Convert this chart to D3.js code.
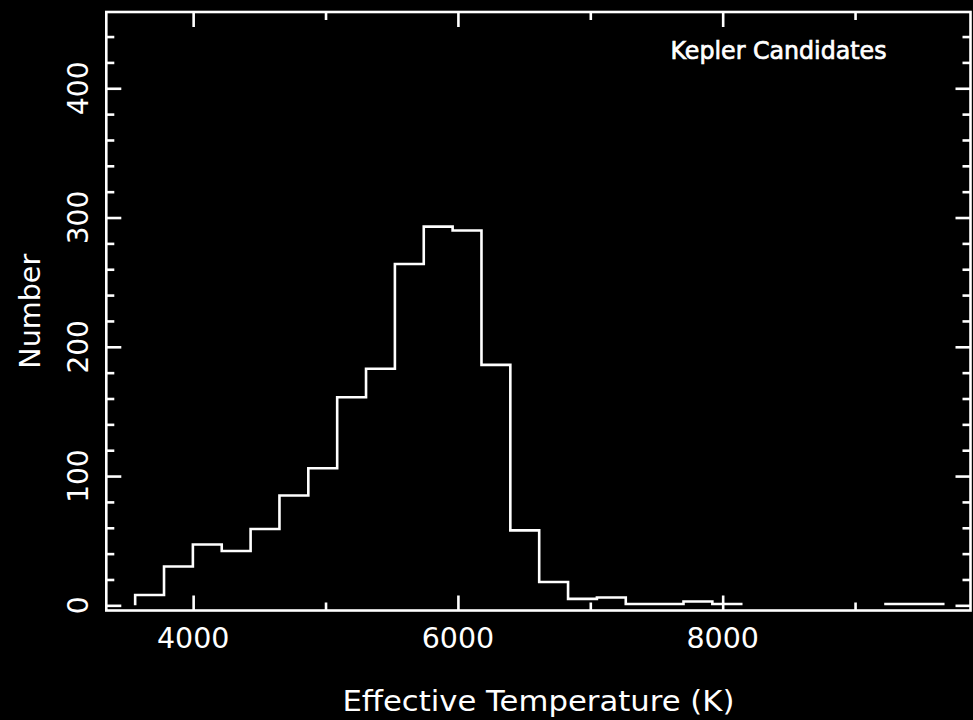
<!DOCTYPE html>
<html>
<head>
<meta charset="utf-8">
<script src="https://cdn.jsdelivr.net/npm/d3@7"></script>
<style>
  html, body { margin: 0; padding: 0; background: #000; }
  svg { display: block; }
  text { font-family: "DejaVu Sans", sans-serif; fill: #fff; }
</style>
</head>
<body>
<svg id="chart" width="973" height="720"></svg>
<script>
// ---- data ----
const binEdges = [3562, 3780, 3998, 4216, 4434, 4652, 4870, 5088, 5306, 5524,
                  5742, 5960, 6178, 6396, 6614, 6832, 7050, 7268, 7486, 7704,
                  7922, 8140, 8358, 8576, 8794, 9012, 9230, 9448, 9666];
const counts = [8, 30, 47, 42, 59, 85, 106, 161, 183, 264,
                293, 290, 186, 58, 18, 5, 6, 1, 1, 3,
                1, 0, 0, 0, 0, 0, 1, 1];
const xMajorTicks = [4000, 6000, 8000];
const xMinorTicks = [5000, 7000, 9000];
const yMajorTicks = [0, 100, 200, 300, 400];
const yMinorTicks = [20, 40, 60, 80, 120, 140, 160, 180, 220, 240, 260, 280, 320, 340, 360, 380, 420, 440];
const xLabel = "Effective Temperature (K)";
const yLabel = "Number";
const annotation = "Kepler Candidates";

// ---- layout ----
const L = 106.3, R = 970.5, T = 12, B = 610.5;
const x = d3.scaleLinear().domain([3344, 9872]).range([L, R]);
const y = d3.scaleLinear().domain([-4, 459]).range([B, T]);

const svg = d3.select("#chart");
svg.append("rect").attr("width", 973).attr("height", 720).attr("fill", "#000");

const lw = 2.6;

function styleAxis(g) {
  g.select(".domain").remove();
  g.selectAll(".tick line").attr("stroke", "#fff").attr("stroke-width", lw);
  g.selectAll(".tick text").remove();
}

// bottom / top x ticks
svg.append("g").attr("transform", `translate(0,${B})`)
  .call(d3.axisBottom(x).tickValues(xMajorTicks).tickSize(-15)).call(styleAxis);
svg.append("g").attr("transform", `translate(0,${B})`)
  .call(d3.axisBottom(x).tickValues(xMinorTicks).tickSize(-8)).call(styleAxis);
svg.append("g").attr("transform", `translate(0,${T})`)
  .call(d3.axisTop(x).tickValues(xMajorTicks).tickSize(-15)).call(styleAxis);
svg.append("g").attr("transform", `translate(0,${T})`)
  .call(d3.axisTop(x).tickValues(xMinorTicks).tickSize(-8)).call(styleAxis);

// left / right y ticks
svg.append("g").attr("transform", `translate(${L},0)`)
  .call(d3.axisLeft(y).tickValues(yMajorTicks).tickSize(-15)).call(styleAxis);
svg.append("g").attr("transform", `translate(${L},0)`)
  .call(d3.axisLeft(y).tickValues(yMinorTicks).tickSize(-8)).call(styleAxis);
svg.append("g").attr("transform", `translate(${R},0)`)
  .call(d3.axisRight(y).tickValues(yMajorTicks).tickSize(-15)).call(styleAxis);
svg.append("g").attr("transform", `translate(${R},0)`)
  .call(d3.axisRight(y).tickValues(yMinorTicks).tickSize(-8)).call(styleAxis);

// frame
svg.append("rect")
  .attr("x", L).attr("y", T).attr("width", R - L).attr("height", B - T)
  .attr("fill", "none").attr("stroke", "#fff").attr("stroke-width", lw);

// x tick labels
svg.append("g").selectAll("text").data(xMajorTicks).join("text")
  .attr("x", d => x(d)).attr("y", 648)
  .attr("text-anchor", "middle").attr("font-size", 28.5)
  .text(d => d);

// y tick labels (rotated)
svg.append("g").selectAll("text").data(yMajorTicks).join("text")
  .attr("transform", d => `translate(87.5,${y(d)}) rotate(-90)`)
  .attr("text-anchor", "middle").attr("font-size", 28)
  .text(d => d);

// axis titles
svg.append("text")
  .attr("x", (L + R) / 2).attr("y", 711)
  .attr("text-anchor", "middle").attr("font-size", 29)
  .attr("textLength", 392).attr("lengthAdjust", "spacingAndGlyphs")
  .text(xLabel);
svg.append("text")
  .attr("transform", `translate(40,${(T + B) / 2}) rotate(-90)`)
  .attr("text-anchor", "middle").attr("font-size", 28)
  .attr("textLength", 115).attr("lengthAdjust", "spacingAndGlyphs")
  .text(yLabel);

// annotation
svg.append("text")
  .attr("x", 670.5).attr("y", 58.5)
  .attr("font-size", 24)
  .attr("stroke", "#fff").attr("stroke-width", 0.7)
  .attr("textLength", 216).attr("lengthAdjust", "spacingAndGlyphs")
  .text(annotation);

// histogram: runs of non-zero bins drawn as step outlines
let d = "";
let i = 0;
while (i < counts.length) {
  if (counts[i] === 0) { i++; continue; }
  d += `M${x(binEdges[i])},${y(0)}`;
  while (i < counts.length && counts[i] !== 0) {
    d += `V${y(counts[i])}H${x(binEdges[i + 1])}`;
    i++;
  }
  d += `V${y(0)}`;
}
svg.append("path").attr("d", d)
  .attr("fill", "none").attr("stroke", "#fff")
  .attr("stroke-width", lw).attr("stroke-linejoin", "miter");
</script>
</body>
</html>
